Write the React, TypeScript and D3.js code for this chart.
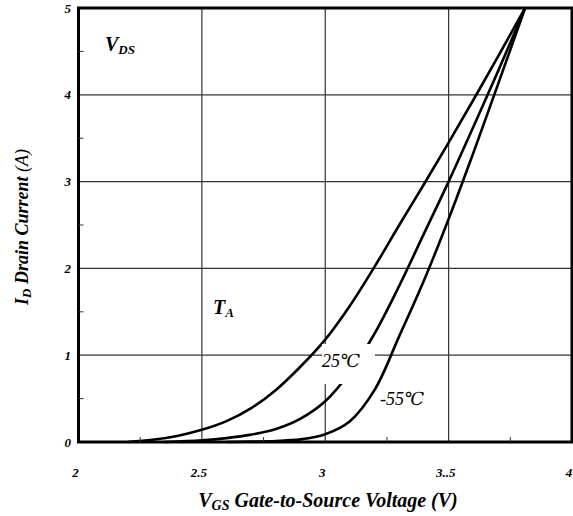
import React, { useRef, useEffect } from 'react';
import * as d3 from 'd3';

// Transfer characteristics
const vgsHot = [2.2, 2.3, 2.4, 2.5, 2.6, 2.7, 2.8, 2.9, 3.0, 3.1, 3.2, 3.3, 3.4, 3.5, 3.6, 3.7, 3.81];
const idHot = [0, 0.025, 0.07, 0.14, 0.24, 0.39, 0.6, 0.87, 1.18, 1.57, 2.02, 2.5, 2.97, 3.45, 3.94, 4.44, 5.0];

const vgs25 = [2.35, 2.5, 2.6, 2.7, 2.8, 2.9, 3.0, 3.1, 3.2, 3.3, 3.4, 3.5, 3.6, 3.7, 3.81];
const id25 = [0, 0.02, 0.045, 0.085, 0.15, 0.27, 0.47, 0.8, 1.25, 1.8, 2.4, 3.0, 3.63, 4.27, 5.0];

const vgsCold = [2.6, 2.7, 2.8, 2.9, 3.0, 3.1, 3.2, 3.3, 3.4, 3.5, 3.6, 3.7, 3.81];
const idCold = [0, 0.005, 0.012, 0.03, 0.09, 0.24, 0.6, 1.22, 1.86, 2.57, 3.33, 4.12, 5.0];

const xTicks = [2, 2.5, 3, 3.5, 4];
const xTickLabels = ['2', '2.5', '3', '3..5', '4'];
const yTicks = [0, 1, 2, 3, 4, 5];
const yTickLabels = ['0', '1', '2', '3', '4', '5'];
const xMinor = [2.25, 2.75, 3.25, 3.75];
const yMinor = [0.5, 1.5, 2.5, 3.5, 4.5];

const serif = "'Liberation Serif', 'DejaVu Serif', serif";

export default function App() {
  const svgRef = useRef<SVGSVGElement | null>(null);

  useEffect(() => {
    document.body.style.margin = '0';
    const svg = d3.select(svgRef.current);
    svg.selectAll('*').remove();

    const width = 573;
    const height = 516;
    svg.attr('width', width).attr('height', height).style('font-family', serif);
    svg.append('rect').attr('width', width).attr('height', height).attr('fill', '#fff');

    const x = d3.scaleLinear().domain([2, 4]).range([78.5, 572]);
    const y = d3.scaleLinear().domain([0, 5]).range([442, 8]);

    // Grid
    const grid = svg.append('g').attr('stroke', '#333').attr('stroke-width', 1.2);
    xTicks.slice(1, -1).forEach(t => {
      grid.append('line')
        .attr('x1', x(t)).attr('x2', x(t))
        .attr('y1', y(0)).attr('y2', y(5));
    });
    yTicks.slice(1, -1).forEach(t => {
      grid.append('line')
        .attr('x1', x(2)).attr('x2', x(4))
        .attr('y1', y(t)).attr('y2', y(t));
    });

    // Curves
    const line = d3.line<[number, number]>()
      .x(d => x(d[0]))
      .y(d => y(d[1]))
      .curve(d3.curveCatmullRom.alpha(0.5));

    const series = [
      d3.zip(vgsHot, idHot),
      d3.zip(vgs25, id25),
      d3.zip(vgsCold, idCold),
    ] as [number, number][][];

    series.forEach(s => {
      svg.append('path')
        .attr('d', line(s))
        .attr('fill', 'none')
        .attr('stroke', '#000')
        .attr('stroke-width', 2.6)
        .attr('stroke-linejoin', 'round');
    });

    // Label boxes (white, they hide lines behind them)
    const boxes = [
      { x0: 102, y0: 34, x1: 140, y1: 58 },
      { x0: 210, y0: 295, x1: 298, y1: 326 },
      { x0: 322, y0: 344, x1: 375, y1: 384 },
      { x0: 378, y0: 388, x1: 434, y1: 410 },
    ];
    boxes.forEach(b => {
      svg.append('rect')
        .attr('x', b.x0).attr('y', b.y0)
        .attr('width', b.x1 - b.x0).attr('height', b.y1 - b.y0)
        .attr('fill', '#fff');
    });

    // Frame
    svg.append('rect')
      .attr('x', x(2)).attr('y', y(5))
      .attr('width', x(4) - x(2)).attr('height', y(0) - y(5))
      .attr('fill', 'none')
      .attr('stroke', '#000')
      .attr('stroke-width', 3);

    // Minor ticks
    xMinor.forEach(t => {
      svg.append('line')
        .attr('x1', x(t)).attr('x2', x(t))
        .attr('y1', y(0)).attr('y2', y(0) - 5)
        .attr('stroke', '#333').attr('stroke-width', 1);
    });
    yMinor.forEach(t => {
      svg.append('line')
        .attr('x1', x(2)).attr('x2', x(2) + 5)
        .attr('y1', y(t)).attr('y2', y(t))
        .attr('stroke', '#333').attr('stroke-width', 1);
    });

    // Tick labels
    const tickFont = (sel: any) => sel
      .style('font-family', serif)
      .attr('font-style', 'italic')
      .attr('font-weight', 'bold')
      .attr('font-size', 13)
      .attr('fill', '#000');

    yTicks.forEach((t, i) => {
      svg.append('text')
        .attr('x', 71).attr('y', y(t))
        .attr('text-anchor', 'end')
        .attr('dominant-baseline', 'central')
        .call(tickFont)
        .text(yTickLabels[i]);
    });
    xTicks.forEach((t, i) => {
      svg.append('text')
        .attr('x', x(t) - 3).attr('y', 472)
        .attr('text-anchor', 'middle')
        .attr('dominant-baseline', 'central')
        .call(tickFont)
        .text(xTickLabels[i]);
    });

    // Axis titles
    const xTitle = svg.append('text')
      .attr('x', 328).attr('y', 507)
      .attr('text-anchor', 'middle')
      .style('font-family', serif)
      .attr('font-style', 'italic')
      .attr('font-weight', 'bold')
      .attr('font-size', 20);
    xTitle.append('tspan').text('V');
    xTitle.append('tspan').attr('font-size', 14).attr('dy', 3).text('GS');
    xTitle.append('tspan').attr('dy', -3).text(' Gate-to-Source Voltage (V)');

    const yTitle = svg.append('text')
      .attr('transform', 'translate(28, 227) rotate(-90)')
      .attr('text-anchor', 'middle')
      .style('font-family', serif)
      .attr('font-style', 'italic')
      .attr('font-weight', 'bold')
      .attr('font-size', 18);
    yTitle.append('tspan').text('I');
    yTitle.append('tspan').attr('font-size', 13).attr('dy', 3).text('D');
    yTitle.append('tspan').attr('dy', -3).text(' Drain Current ');
    yTitle.append('tspan').attr('font-weight', 'normal').text('(A)');

    // Annotations
    const sub = (px: number, py: number, main: string, subText: string) => {
      const t = svg.append('text')
        .attr('x', px).attr('y', py)
        .style('font-family', serif)
        .attr('font-style', 'italic')
        .attr('font-weight', 'bold')
        .attr('font-size', 20);
      t.append('tspan').text(main);
      t.append('tspan').attr('font-size', 13).attr('dy', 3).text(subText);
    };
    sub(105, 51, 'V', 'DS');
    sub(213, 314, 'T', 'A');

    const tempLabel = (px: number, py: number, s: string) => {
      svg.append('text')
        .attr('x', px).attr('y', py)
        .style('font-family', serif)
        .attr('font-style', 'italic')
        .attr('font-size', 18)
        .text(s);
    };
    tempLabel(322, 367, '25℃');
    tempLabel(380, 405, '-55℃');
  }, []);

  return <svg ref={svgRef} />;
}
